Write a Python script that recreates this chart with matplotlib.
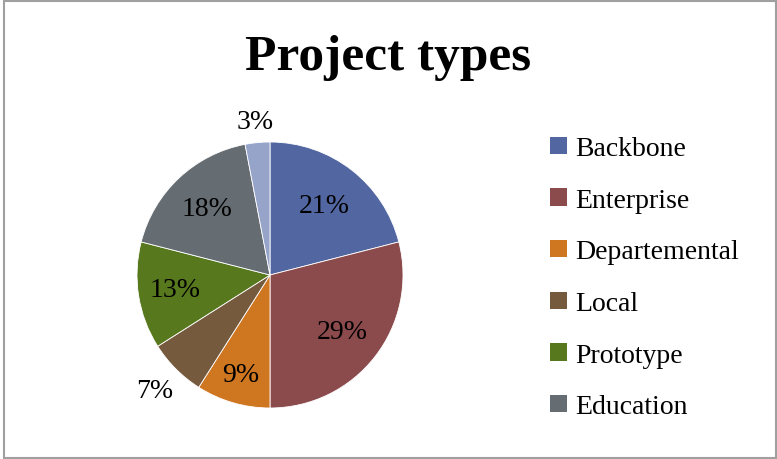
import matplotlib.pyplot as plt
import numpy as np
from matplotlib.patches import Rectangle, Patch

# data (start at 12 o'clock, clockwise)
categories = ['Backbone', 'Enterprise', 'Departemental', 'Local',
              'Prototype', 'Education', 'Other']
shares = [21, 29, 9, 7, 13, 18, 3]
colors = ['#5266A1', '#8B4A4C', '#CF7621', '#765A3E',
          '#58781E', '#656C72', '#97A4CA']
# only the first six show up in the legend (last one is cut off)
legend_count = 6
# how far out each percent label sits, in radii
label_dist = [0.66, 0.69, 0.78, 1.23, 0.72, 0.69, 1.16]

plt.rcParams['font.family'] = ['Liberation Serif', 'DejaVu Serif']

fig = plt.figure(figsize=(7.77, 4.6), dpi=100)
W, H = 777, 460

# pie area: centre ~ (270, 276) px, radius ~ 133 px
cx, cy, r = 270, 276, 133
ax = fig.add_axes([(cx - r) / W, (H - cy - r) / H, 2 * r / W, 2 * r / H])
wedges, _ = ax.pie(shares, colors=colors, startangle=90, counterclock=False,
                   radius=1.0, wedgeprops=dict(edgecolor='white', linewidth=0.6))
ax.set_xlim(-1, 1)
ax.set_ylim(-1, 1)
ax.set_aspect('equal')
ax.axis('off')

# percent labels at each wedge's mid angle
for w, s, d in zip(wedges, shares, label_dist):
    ang = np.deg2rad((w.theta1 + w.theta2) / 2)
    ax.text(d * np.cos(ang), d * np.sin(ang), f'{s}%', ha='center', va='center',
            fontsize=20, color='black', clip_on=False)

fig.text(0.5, 1 - 58 / H, 'Project types', ha='center', va='center',
         fontsize=37, fontweight='bold')

handles = [Patch(facecolor=colors[i], label=categories[i]) for i in range(legend_count)]
fig.legend(handles=handles, loc='upper left', bbox_to_anchor=(539 / W, 1 - 126 / H),
           frameon=False, fontsize=20, handlelength=0.6, handleheight=0.6,
           handletextpad=0.3, labelspacing=0.96, borderaxespad=0)

# thin grey frame round the whole chart
fig.add_artist(Rectangle((3.5 / W, 1.5 / H), (775.5 - 3.5) / W, (458.5 - 1.5) / H,
                         transform=fig.transFigure, fill=False,
                         edgecolor='#A0A0A0', linewidth=1.5))

fig.savefig('out.png', dpi=100)
